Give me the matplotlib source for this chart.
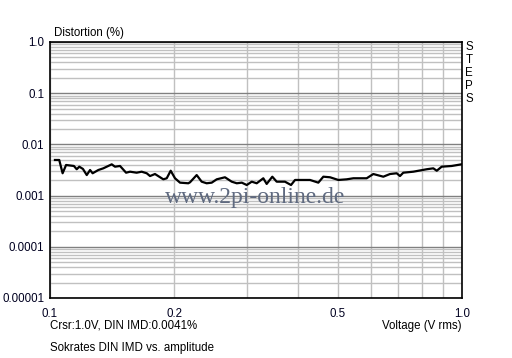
import numpy as np
import matplotlib.pyplot as plt
from matplotlib.ticker import FixedLocator, NullFormatter

# curve (voltage in V rms, distortion in %)
voltage = [0.1028, 0.1053, 0.1073, 0.1094, 0.1143, 0.1161, 0.1178, 0.1202,
           0.1228, 0.1251, 0.1269, 0.1310, 0.1347, 0.1412, 0.1438, 0.1479,
           0.1530, 0.1564, 0.1623, 0.1669, 0.1717, 0.1749, 0.1798, 0.1884,
           0.1920, 0.1963, 0.2011, 0.2068, 0.2166, 0.2187, 0.2270, 0.2334,
           0.2400, 0.2469, 0.2539, 0.2659, 0.2761, 0.2840, 0.2921, 0.3003,
           0.3088, 0.3175, 0.3294, 0.3357, 0.3464, 0.3550, 0.3718, 0.3846,
           0.3933, 0.4120, 0.4277, 0.4480, 0.4607, 0.4783, 0.5010, 0.5250,
           0.5449, 0.5870, 0.6092, 0.6442, 0.6688, 0.6942, 0.7071, 0.7202,
           0.7616, 0.8209, 0.8518, 0.8684, 0.8927, 0.9441, 1.0]
distortion = [0.00496, 0.00496, 0.00273, 0.00396, 0.00379, 0.00327, 0.00367, 0.00332,
              0.00252, 0.00316, 0.00273, 0.00316, 0.00341, 0.00408, 0.00367, 0.00379,
              0.00280, 0.00293, 0.00280, 0.00293, 0.00273, 0.00241, 0.00264, 0.00208,
              0.00218, 0.00306, 0.00218, 0.00179, 0.00174, 0.00182, 0.00252, 0.00187,
              0.00174, 0.00179, 0.00208, 0.00228, 0.00187, 0.00174, 0.00179, 0.00161,
              0.00187, 0.00174, 0.00218, 0.00169, 0.00234, 0.00187, 0.00187, 0.00161,
              0.00202, 0.00202, 0.00202, 0.00179, 0.00234, 0.00228, 0.00202, 0.00208,
              0.00218, 0.00218, 0.00264, 0.00234, 0.00264, 0.00273, 0.00241, 0.00280,
              0.00293, 0.00327, 0.00341, 0.00306, 0.00367, 0.00379, 0.00410]

x_labels = ["0.1", "0.2", "0.5", "1.0"]
x_label_pos = [0.1, 0.2, 0.5, 1.0]
y_labels = ["1.0", "0.1", "0.01", "0.001", "0.0001", "0.00001"]
y_label_pos = [1.0, 0.1, 0.01, 0.001, 0.0001, 0.00001]

plt.rcParams['font.family'] = ['Liberation Sans', 'DejaVu Sans']
fs = 8.3

fig = plt.figure(figsize=(5.12, 3.58), dpi=100)
ax = fig.add_axes([50 / 512, 1 - 298 / 358, 412 / 512, 256 / 358])
ax.set_xscale('log')
ax.set_yscale('log')
ax.set_xlim(0.1, 1.0)
ax.set_ylim(1e-5, 1.0)

# grid: light verticals, light minor horizontals, darker decade lines
ax.xaxis.set_major_locator(FixedLocator(x_label_pos))
ax.xaxis.set_minor_locator(FixedLocator([0.3, 0.4, 0.6, 0.7, 0.8, 0.9]))
ax.xaxis.set_minor_formatter(NullFormatter())
ax.set_xticklabels(x_labels)
ax.yaxis.set_major_locator(FixedLocator(y_label_pos))
ax.yaxis.set_minor_locator(FixedLocator(
    [m * 10.0 ** e for e in range(-5, 0) for m in range(2, 10)]))
ax.yaxis.set_minor_formatter(NullFormatter())
ax.set_yticklabels(y_labels)

ax.grid(True, which='major', axis='x', color='#c0c0c0', lw=1)
ax.grid(True, which='minor', axis='x', color='#c0c0c0', lw=1)
ax.grid(True, which='minor', axis='y', color='#c0c0c0', lw=1)
ax.grid(True, which='major', axis='y', color='#808080', lw=1)
ax.set_axisbelow(True)

ax.tick_params(which='both', length=0, labelsize=fs, labelcolor='#000020')
ax.tick_params(axis='x', pad=7)
ax.tick_params(axis='y', pad=4)
for s in ax.spines.values():
    s.set_color('black')
    s.set_linewidth(1.2)

ax.plot(voltage, distortion, color='black', lw=1.6, zorder=3)

# texts
fig.text(54 / 512, 1 - 33 / 358, "Distortion (%)", fontsize=fs, va='center')
fig.text(469 / 512, 1 - 73 / 358, "S\nT\nE\nP\nS", fontsize=fs,
         ha='center', va='center', linespacing=1.1)
fig.text(50 / 512, 1 - 326 / 358, "Crsr:1.0V, DIN IMD:0.0041%", fontsize=fs,
         va='center')
fig.text(462 / 512, 1 - 326 / 358, "Voltage (V rms)", fontsize=fs,
         ha='right', va='center')
fig.text(50 / 512, 1 - 348 / 358, "Sokrates DIN IMD vs. amplitude",
         fontsize=fs, va='center')
fig.text(255 / 512, 1 - 197 / 358, "www.2pi-online.de", fontsize=17,
         family='Liberation Serif', color='#5f6a80', ha='center',
         va='center', zorder=5)

fig.savefig('out.png', dpi=100)
